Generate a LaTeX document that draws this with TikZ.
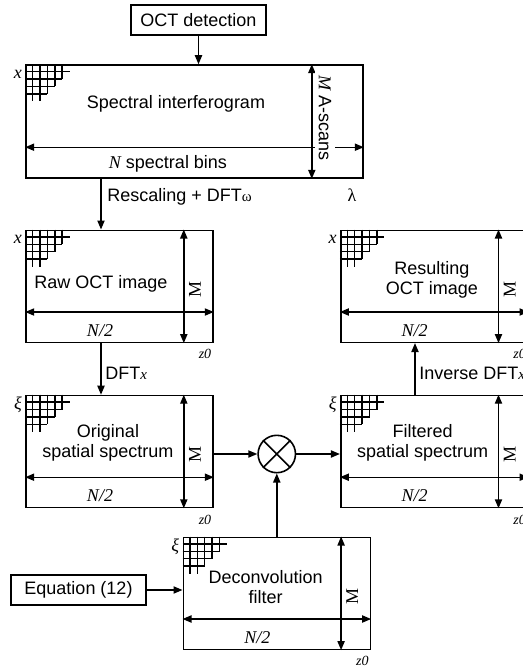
\documentclass[tikz,border=0pt]{standalone}
\usepackage{fontspec}
\setmainfont{Liberation Sans}
\newfontfamily\serif{Liberation Serif}
\usetikzlibrary{arrows.meta, calc}

\tikzset{
  panel/.style={draw, line width=0.8pt, minimum width=93.5pt, minimum height=56pt, inner sep=0pt},
  plainbox/.style={draw, line width=0.8pt, minimum width=67.5pt, minimum height=15pt, inner sep=0pt},
  gridline/.style={line width=0.75pt},
  flow/.style={->, line width=0.7pt},
  dim/.style={<->, line width=0.7pt},
  axislabel/.style={anchor=east, inner sep=0pt, font=\fontsize{9}{10}\serif\itshape},
  maths/.style={inner sep=0pt, font=\fontsize{9}{10}\serif\itshape},
  depth/.style={inner sep=0pt, font=\fontsize{7}{8}\serif\itshape},
  vlabel/.style={inner sep=0pt, rotate=90, font=\fontsize{9}{10}\serif},
  caption/.style={align=center, inner sep=0pt}
}

% staircase grid in the upper left corner of a panel
\newcommand{\cornergrid}[2]{%
  \foreach \k in {1,...,4}
    \draw[gridline] ($(#1.north west)+(0,\k*7.4)$) -- ++({(7-\k)*7.4},0);
  \foreach \k in {1,...,5}
    \draw[gridline] ($(#1.north west)+(\k*7.4,0)$) -- ++(0,{min(5,7-\k)*7.4});
  \node[axislabel] (#1-ax) at ($(#1.north west)+(-3,10)$) {#2};
}

% image panel with N/2 x M arrows
\newcommand{\imgpanel}[3]{%
  \node[panel] (#1) at (#2) {};
  \cornergrid{#1}{#3}
  \draw[dim] ($(#1.north west)+(0,82.5)$) -- ($(#1.north east)+(0,82.5)$);
  \draw[dim] ($(#1.north east)+(-30,0)$) -- ($(#1.south east)+(-30,0)$);
  \node[vlabel] (#1-m) at ($(#1.center)+(75.5,3)$) {M};
  \node[maths] (#1-n) at ($(#1.center)+(-19.5,44)$) {N/2};
  \node[depth] (#1-z) at ($(#1.center)+(85.5,68)$) {z0};
}

\begin{document}
\begin{tikzpicture}[x=0.5pt, y=-0.5pt, >={Triangle[length=4.5pt,width=3.6pt]},
    font=\fontsize{9}{10}\selectfont]
  \useasboundingbox (0,0) rectangle (523,666);
  \clip (0,0) rectangle (523,666);

  % detection and interferogram
  \node[plainbox] (oct) at (198.5,20) {OCT detection};
  \node[panel, minimum width=168.5pt, minimum height=56.5pt] (spec) at (194.5,121.5) {};
  \cornergrid{spec}{x}
  \draw[dim] ($(spec.north west)+(0,83)$) -- ($(spec.north east)+(0,83)$);
  \draw[dim] ($(spec.north east)+(-52,0)$) -- ($(spec.south east)+(-52,0)$);
  \node[inner sep=2pt, fill=white, rotate=-90] (spec-m) at (325,118) {{\serif\itshape M} A-scans};
  \node[caption] (spec-t) at (176,104) {Spectral interferogram};
  \node[caption] (spec-n) at (168,164) {{\serif\itshape N} spectral bins};
  \node[inner sep=0pt, font=\fontsize{9}{10}\serif] (lambda) at (352,195) {λ};

  % image panels
  \imgpanel{raw}{119.5,286.3}{x}
  \node[caption] (raw-t) at (101,284) {Raw OCT image};
  \imgpanel{res}{434.2,286.3}{x}
  \node[caption] (res-t) at (432,280) {Resulting\\OCT image};
  \imgpanel{orig}{119.5,451.5}{ξ}
  \node[caption] (orig-t) at (108,443) {Original\\spatial spectrum};
  \imgpanel{filt}{434.2,451.5}{ξ}
  \node[caption] (filt-t) at (422.7,443) {Filtered\\spatial spectrum};
  \imgpanel{deconv}{276.8,593.3}{ξ}
  \node[caption] (deconv-t) at (265.7,586.7) {Deconvolution\\filter};

  \node[plainbox] (eq) at (78.5,590) {Equation (12)};
  \node[draw, circle, line width=0.8pt, minimum size=18.7pt, inner sep=0pt] (mult) at (276.8,454) {};
  \draw[line width=0.8pt] (mult.north west) -- (mult.south east)
    (mult.north east) -- (mult.south west);

  % connections
  \draw[flow] (oct.south) -- (oct.south |- spec.north);
  \draw[flow] ([xshift=-9.25pt]raw.north |- spec.south) -- ([xshift=-9.25pt]raw.north);
  \node[anchor=west, inner sep=0pt] (resc) at (107,197) {Rescaling + DFT{\fontsize{7.5}{8}\serif ω}};
  \draw[flow] ([xshift=-9.25pt]raw.south) -- ([xshift=-9.25pt]orig.north);
  \node[anchor=west, inner sep=0pt] (dftx) at (105,373) {DFT{\fontsize{7.5}{8}\serif\itshape x}};
  \draw[flow] ([xshift=-9.6pt]filt.north) -- ([xshift=-9.6pt]res.south);
  \node[anchor=west, inner sep=0pt] (idft) at (419,373) {Inverse DFT{\fontsize{7.5}{8}\serif\itshape x}};
  \draw[flow] (orig.east |- mult) -- (mult.west);
  \draw[flow] (mult.east) -- (mult.east -| filt.west);
  \draw[flow] (deconv.north) -- (mult.south);
  \draw[flow] (eq.east) -- (eq.east -| deconv.west);
\end{tikzpicture}
\end{document}
